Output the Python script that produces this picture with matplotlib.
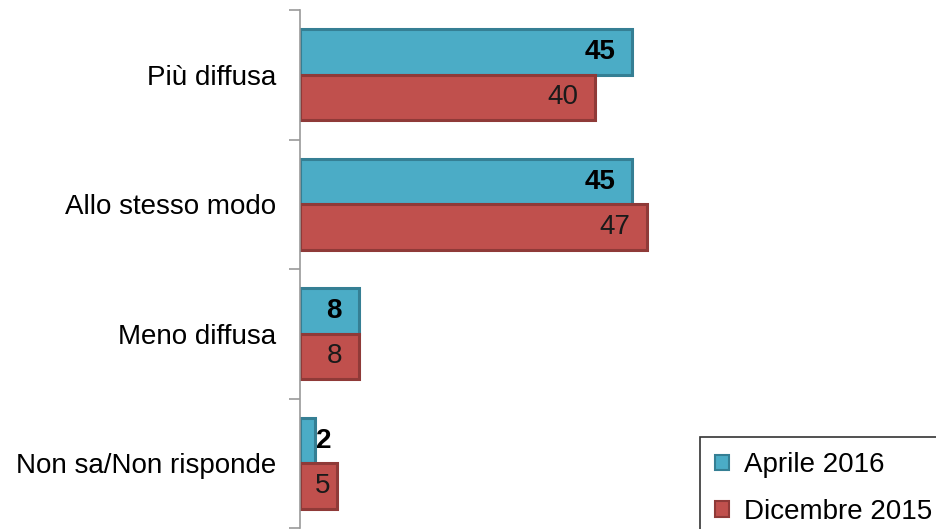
import matplotlib
matplotlib.use("Agg")
import matplotlib.pyplot as plt
import numpy as np
from matplotlib.patches import Patch

plt.rcParams['font.family'] = ['Liberation Sans', 'DejaVu Sans']

categories = ["Più diffusa", "Allo stesso modo", "Meno diffusa", "Non sa/Non risponde"]
aprile_2016 = [45, 45, 8, 2]
dicembre_2015 = [40, 47, 8, 5]
series_names = ["Aprile 2016", "Dicembre 2015"]

teal, teal_edge = "#4bacc6", "#357f94"
red, red_edge = "#c0504d", "#8f3a38"
FS = 20

fig = plt.figure(figsize=(9.36, 5.29), dpi=100)
ax = fig.add_axes([300/936, 1 - 528/529, 443/936, 518/529])

y = np.arange(len(categories))
h = 0.35
ax.barh(y - h/2, aprile_2016, height=h, color=teal, edgecolor=teal_edge, linewidth=2.2)
ax.barh(y + h/2, dicembre_2015, height=h, color=red, edgecolor=red_edge, linewidth=2.2)

ax.set_xlim(0, 60)
ax.set_ylim(len(categories) - 0.5, -0.5)

for i, v in enumerate(aprile_2016):
    if v >= 5:
        ax.annotate(str(v), (v, y[i] - h/2), xytext=(-17, 0), textcoords="offset pixels",
                    ha="right", va="center", fontsize=FS, fontweight="bold", color="black")
    else:
        ax.annotate(str(v), (v, y[i] - h/2), xytext=(1, 0), textcoords="offset pixels",
                    ha="left", va="center", fontsize=FS, fontweight="bold", color="black")
for i, v in enumerate(dicembre_2015):
    ax.annotate(str(v), (v, y[i] + h/2), xytext=(-17 if v >= 8 else -7, 0), textcoords="offset pixels",
                ha="right", va="center", fontsize=FS, color="#1a1a1a")

ax.set_yticks(y)
ax.set_yticklabels(categories, fontsize=FS)
ax.tick_params(axis="y", length=0, pad=17)
ax.set_yticks(np.arange(len(categories) + 1) - 0.5, minor=True)
ax.tick_params(axis="y", which="minor", length=8, color="#999999", width=1.2)
ax.set_xticks([])
for s in ["top", "right", "bottom"]:
    ax.spines[s].set_visible(False)
ax.spines["left"].set_color("#999999")
ax.spines["left"].set_linewidth(1.2)

handles = [Patch(facecolor=teal, edgecolor=teal_edge, linewidth=1.5),
           Patch(facecolor=red, edgecolor=red_edge, linewidth=1.5)]
leg = fig.legend(handles, series_names, loc="upper left", bbox_to_anchor=(700/936, 1 - 437/529),
                 fontsize=FS, frameon=True, fancybox=False, edgecolor="black",
                 handlelength=0.5, handleheight=0.5, handletextpad=0.55,
                 borderpad=0.55, labelspacing=0.73, borderaxespad=0)
leg.get_frame().set_linewidth(1.2)

fig.savefig("out.png", dpi=100)
